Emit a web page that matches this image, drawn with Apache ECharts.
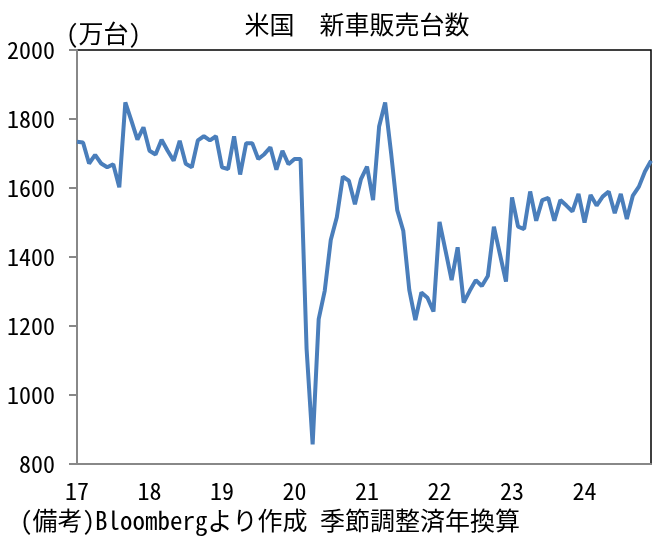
<!DOCTYPE html>
<html>
<head>
<meta charset="utf-8">
<script src="https://cdn.jsdelivr.net/npm/echarts@6/dist/echarts.min.js"></script>
<style>
  html, body { margin: 0; padding: 0; background: #fff; }
  #main { width: 661px; height: 537px; }
</style>
</head>
<body>
<div id="main"></div>
<script>
// 月次、季節調整済年換算（万台）
var sales2017 = [1734, 1732, 1671, 1696, 1671, 1660, 1669, 1602, 1848, 1795, 1740, 1776];
var sales2018 = [1708, 1697, 1740, 1708, 1679, 1737, 1670, 1660, 1738, 1750, 1738, 1750];
var sales2019 = [1660, 1655, 1750, 1639, 1730, 1730, 1684, 1698, 1718, 1653, 1708, 1669];
var sales2020 = [1684, 1684, 1133, 857, 1220, 1302, 1449, 1515, 1633, 1621, 1553, 1626];
var sales2021 = [1662, 1565, 1778, 1848, 1699, 1536, 1476, 1304, 1217, 1297, 1282, 1242];
var sales2022 = [1502, 1418, 1333, 1428, 1268, 1302, 1333, 1316, 1345, 1488, 1408, 1329];
var sales2023 = [1573, 1488, 1481, 1590, 1505, 1565, 1571, 1505, 1565, 1549, 1532, 1583];
var sales2024 = [1500, 1580, 1549, 1575, 1590, 1527, 1583, 1510, 1578, 1604, 1648, 1679];

var years = ['2017', '2018', '2019', '2020', '2021', '2022', '2023', '2024'];
var yearLabels = ['17', '18', '19', '20', '21', '22', '23', '24'];
var months = ['01', '02', '03', '04', '05', '06', '07', '08', '09', '10', '11', '12'];

var categories = [];
for (var i = 0; i < years.length; i++) {
  for (var j = 0; j < months.length; j++) {
    categories.push(years[i] + '-' + months[j]);
  }
}
var sales = [].concat(sales2017, sales2018, sales2019, sales2020,
  sales2021, sales2022, sales2023, sales2024);

var font = "'Noto Sans Mono CJK JP', 'Noto Sans CJK JP', monospace";

var chart = echarts.init(document.getElementById('main'), null, { renderer: 'canvas' });

var option = {
  animation: false,
  backgroundColor: '#fff',
  grid: {
    left: 77,
    right: 10,
    top: 50,
    bottom: 73,
    outerBoundsMode: 'none',
    containLabel: false,
    show: true,
    borderColor: '#000',
    borderWidth: 1.5
  },
  graphic: [
    {
      type: 'text',
      x: 357,
      y: 24,
      style: {
        text: '米国　新車販売台数',
        font: "25px " + font,
        fill: '#000',
        textAlign: 'center',
        textVerticalAlign: 'middle'
      }
    },
    {
      type: 'text',
      x: 66,
      y: 33,
      style: {
        text: '(万台)',
        font: "25px " + font,
        fill: '#000',
        textAlign: 'left',
        textVerticalAlign: 'middle'
      }
    },
    {
      type: 'text',
      x: 20,
      y: 520,
      style: {
        text: '(備考)Bloombergより作成 季節調整済年換算',
        font: "25px " + font,
        fill: '#000',
        textAlign: 'left',
        textVerticalAlign: 'middle'
      }
    }
  ],
  xAxis: {
    type: 'category',
    data: categories,
    boundaryGap: false,
    axisLine: { lineStyle: { color: '#888', width: 2 } },
    axisTick: { show: false },
    axisLabel: {
      interval: function (index) { return index % 12 === 0; },
      formatter: function (value, index) { return yearLabels[Math.floor(index / 12)]; },
      color: '#000',
      fontSize: 24,
      fontFamily: font,
      margin: 15
    },
    splitLine: { show: false }
  },
  yAxis: {
    type: 'value',
    min: 800,
    max: 2000,
    interval: 200,
    axisLine: { show: true, lineStyle: { color: '#888', width: 2 } },
    axisTick: { show: true, length: 8, lineStyle: { color: '#888', width: 2 } },
    axisLabel: {
      formatter: function (v) { return String(v); },
      color: '#000',
      fontSize: 24,
      fontFamily: font,
      margin: 22
    },
    splitLine: { show: false }
  },
  series: [{
    name: '新車販売台数',
    type: 'line',
    data: sales,
    showSymbol: false,
    symbol: 'none',
    lineStyle: { color: '#4a7ebb', width: 4 },
    itemStyle: { color: '#4a7ebb' }
  }]
};

chart.setOption(option);
</script>
</body>
</html>
